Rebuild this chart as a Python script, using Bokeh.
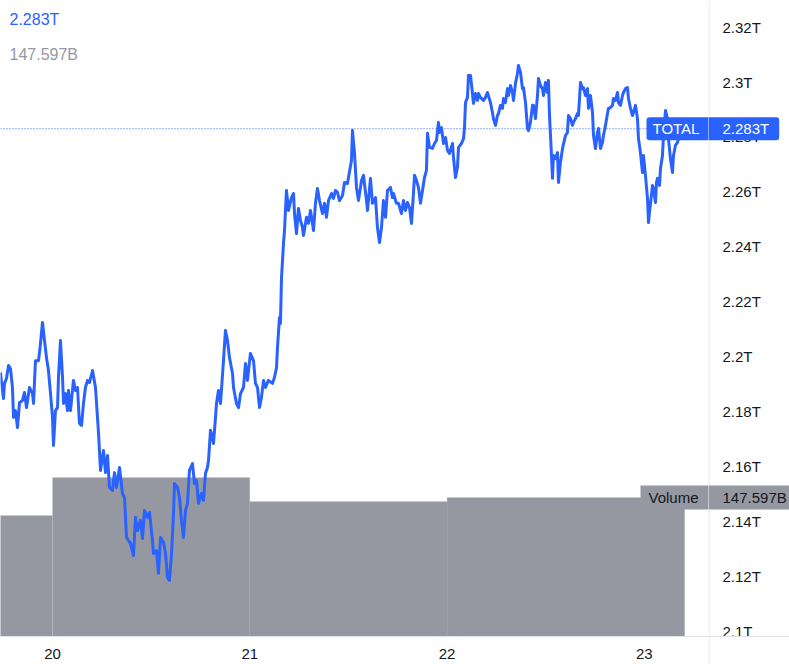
from bokeh.plotting import figure
from bokeh.layouts import row
from bokeh.models import ColumnDataSource, Range1d, FixedTicker, Span, Label
from bokeh.core.properties import value
from bokeh.embed import file_html
from bokeh.resources import INLINE

# hours since day 20, 00:00
hours = [
    -6.33, -6.20, -5.96, -5.84, -5.60, -5.35, -5.11, -4.87, -4.74, -4.50,
    -4.26, -4.01, -3.65, -3.41, -3.16, -2.80, -2.43, -2.31, -2.07, -1.70,
    -1.46, -1.22, -0.97, -0.73, -0.49, -0.24, 0.00, 0.12, 0.36, 0.61,
    0.73, 0.97, 1.22, 1.34, 1.58, 1.82, 1.95, 2.19, 2.55, 2.80,
    3.04, 3.28, 3.53, 3.77, 4.01, 4.26, 4.50, 4.87, 5.23, 5.47,
    5.60, 5.84, 6.20, 6.45, 6.69, 6.93, 7.30, 7.54, 7.78, 8.15,
    8.51, 8.76, 9.00, 9.24, 9.49, 9.85, 10.10, 10.34, 10.70, 10.95,
    11.19, 11.56, 11.80, 12.16, 12.29, 12.65, 12.89, 13.14, 13.50, 13.75,
    13.99, 14.23, 14.48, 14.72, 14.84, 15.21, 15.45, 15.69, 15.93, 16.18,
    16.42, 16.66, 17.03, 17.27, 17.52, 17.76, 18.12, 18.37, 18.61, 18.85,
    18.98, 19.22, 19.46, 19.58, 19.83, 19.95, 20.19, 20.44, 20.80, 21.04,
    21.29, 21.53, 21.90, 22.02, 22.38, 22.63, 22.87, 23.23, 23.48, 23.72,
    24.08, 24.45, 24.69, 24.94, 25.18, 25.42, 25.67, 25.91, 26.27, 26.76,
    27.00, 27.25, 27.37, 27.61, 27.73, 27.86, 28.10, 28.22, 28.46, 28.71,
    29.07, 29.32, 29.44, 29.68, 29.92, 30.17, 30.41, 30.53, 30.90, 31.14,
    31.38, 31.75, 31.99, 32.23, 32.48, 32.84, 33.09, 33.33, 33.57, 33.94,
    34.18, 34.42, 34.67, 34.91, 35.28, 35.52, 35.88, 36.37, 36.49, 36.74,
    36.98, 37.22, 37.59, 37.83, 38.20, 38.32, 38.68, 38.92, 39.29, 39.53,
    39.78, 40.02, 40.26, 40.51, 40.75, 41.11, 41.36, 41.48, 41.84, 42.09,
    42.45, 42.70, 42.94, 43.18, 43.43, 43.67, 43.91, 44.04, 44.28, 44.52,
    44.76, 45.01, 45.25, 45.49, 45.62, 45.86, 46.22, 46.47, 46.71, 46.95,
    47.07, 47.32, 47.56, 47.81, 48.05, 48.29, 48.66, 48.78, 49.02, 49.26,
    49.39, 49.75, 50.00, 50.12, 50.24, 50.48, 50.60, 50.85, 51.09, 51.21,
    51.45, 51.70, 51.82, 52.06, 52.43, 52.67, 52.91, 53.28, 53.52, 53.64,
    53.89, 54.13, 54.25, 54.49, 54.74, 54.86, 55.10, 55.35, 55.47, 55.71,
    55.95, 56.08, 56.32, 56.56, 56.68, 56.93, 57.17, 57.29, 57.54, 57.78,
    57.90, 58.14, 58.39, 58.51, 58.75, 59.00, 59.12, 59.36, 59.60, 59.73,
    59.97, 60.21, 60.33, 60.46, 60.70, 60.82, 60.94, 61.19, 61.43, 61.55,
    61.79, 62.04, 62.40, 62.64, 62.77, 63.01, 63.25, 63.37, 63.62, 63.86,
    63.98, 64.23, 64.47, 64.59, 64.83, 65.08, 65.20, 65.44, 65.69, 65.81,
    66.05, 66.29, 66.42, 66.66, 66.90, 67.02, 67.27, 67.51, 67.63, 67.88,
    68.12, 68.24, 68.48, 68.73, 68.85, 69.09, 69.34, 69.46, 69.70, 69.94,
    70.07, 70.31, 70.55, 70.67, 70.92, 71.16, 71.28, 71.52, 71.77, 71.89,
    72.13, 72.38, 72.50, 72.62, 72.86, 72.98, 73.11, 73.35, 73.47, 73.59,
    73.84, 73.96, 74.20, 74.32, 74.57, 74.81, 74.93, 75.17, 75.42, 75.54,
    75.78, 76.03, 76.15, 76.39, 76.75,
]

# TOTAL crypto market cap, trillions
total_t = [
    2.1942, 2.1905, 2.1847, 2.1902, 2.1920, 2.1967, 2.1956, 2.1887, 2.1778, 2.1803,
    2.1741, 2.1832, 2.1840, 2.1869, 2.1814, 2.1887, 2.1865, 2.1829, 2.1985, 2.1985,
    2.2047, 2.2124, 2.2058, 2.1996, 2.1949, 2.1865, 2.1778, 2.1676, 2.1803, 2.1814,
    2.1924, 2.2058, 2.1924, 2.1829, 2.1865, 2.1803, 2.1876, 2.1803, 2.1913, 2.1876,
    2.1887, 2.1756, 2.1749, 2.1829, 2.1887, 2.1913, 2.1905, 2.1949, 2.1887, 2.1778,
    2.1720, 2.1585, 2.1658, 2.1577, 2.1639, 2.1523, 2.1512, 2.1577, 2.1523, 2.1596,
    2.1501, 2.1486, 2.1341, 2.1330, 2.1319, 2.1275, 2.1414, 2.1366, 2.1403, 2.1337,
    2.1439, 2.1414, 2.1432, 2.1330, 2.1282, 2.1293, 2.1210, 2.1341, 2.1323, 2.1282,
    2.1195, 2.1184, 2.1282, 2.1428, 2.1537, 2.1523, 2.1486, 2.1403, 2.1341, 2.1439,
    2.1465, 2.1585, 2.1610, 2.1537, 2.1548, 2.1465, 2.1501, 2.1476, 2.1574, 2.1596,
    2.1621, 2.1731, 2.1705, 2.1683, 2.1778, 2.1829, 2.1876, 2.1829, 2.1985, 2.2095,
    2.2058, 2.1996, 2.1938, 2.1887, 2.1829, 2.1814, 2.1865, 2.1887, 2.1975, 2.1913,
    2.2011, 2.1985, 2.1902, 2.1887, 2.1814, 2.1851, 2.1913, 2.1887, 2.1913, 2.1902,
    2.1924, 2.1960, 2.2033, 2.2142, 2.2120, 2.2288, 2.2412, 2.2459, 2.2605, 2.2532,
    2.2579, 2.2594, 2.2521, 2.2448, 2.2539, 2.2496, 2.2470, 2.2441, 2.2507, 2.2485,
    2.2532, 2.2459, 2.2558, 2.2612, 2.2568, 2.2521, 2.2558, 2.2507, 2.2568, 2.2594,
    2.2576, 2.2605, 2.2598, 2.2568, 2.2587, 2.2634, 2.2630, 2.2714, 2.2823, 2.2740,
    2.2616, 2.2568, 2.2641, 2.2660, 2.2568, 2.2532, 2.2649, 2.2558, 2.2579, 2.2470,
    2.2415, 2.2470, 2.2568, 2.2507, 2.2605, 2.2616, 2.2579, 2.2594, 2.2558, 2.2558,
    2.2521, 2.2568, 2.2532, 2.2561, 2.2543, 2.2485, 2.2594, 2.2660, 2.2641, 2.2616,
    2.2558, 2.2605, 2.2652, 2.2678, 2.2813, 2.2762, 2.2758, 2.2776, 2.2787, 2.2853,
    2.2816, 2.2834, 2.2776, 2.2798, 2.2751, 2.2740, 2.2776, 2.2725, 2.2652, 2.2689,
    2.2762, 2.2776, 2.2794, 2.2834, 2.2925, 2.2944, 2.3024, 2.3024, 2.2958, 2.2922,
    2.2958, 2.2933, 2.2958, 2.2944, 2.2933, 2.2944, 2.2962, 2.2925, 2.2889, 2.2867,
    2.2842, 2.2878, 2.2885, 2.2915, 2.2904, 2.2940, 2.2925, 2.2976, 2.2951, 2.2987,
    2.2962, 2.2933, 2.2995, 2.3031, 2.3060, 2.3035, 2.2976, 2.2980, 2.2925, 2.2831,
    2.2823, 2.2853, 2.2915, 2.2915, 2.2867, 2.2951, 2.3013, 2.2987, 2.2976, 2.2951,
    2.2998, 2.2962, 2.3006, 2.2878, 2.2732, 2.2649, 2.2732, 2.2721, 2.2743, 2.2634,
    2.2707, 2.2758, 2.2805, 2.2816, 2.2878, 2.2867, 2.2842, 2.2853, 2.2867, 2.2885,
    2.2878, 2.2998, 2.2976, 2.2980, 2.2951, 2.2976, 2.2904, 2.2951, 2.2889, 2.2805,
    2.2758, 2.2816, 2.2831, 2.2758, 2.2780, 2.2805, 2.2842, 2.2885, 2.2904, 2.2907,
    2.2915, 2.2940, 2.2933, 2.2962, 2.2925, 2.2915, 2.2951, 2.2962, 2.2976, 2.2980,
    2.2940, 2.2904, 2.2878, 2.2889, 2.2915, 2.2867, 2.2794, 2.2743, 2.2670, 2.2732,
    2.2660, 2.2576, 2.2488, 2.2525, 2.2587, 2.2623, 2.2612, 2.2561, 2.2634, 2.2649,
    2.2623, 2.2685, 2.2732, 2.2805, 2.2896, 2.2867, 2.2794, 2.2721, 2.2670, 2.2732,
    2.2769, 2.2780, 2.2794, 2.2798, 2.2830,
]

# volume bars (billions), start/end in hours since day 20
vol_start_h = [-24, 0, 24, 48]
vol_end_h = [0, 24, 48, 76.9]
volume_b = [128.5, 168.8, 143.3, 147.597]

price_ticks = [2.10, 2.12, 2.14, 2.16, 2.18, 2.20, 2.22, 2.24, 2.26, 2.28, 2.30, 2.32]
price_tick_labels = ["2.1T", "2.12T", "2.14T", "2.16T", "2.18T", "2.2T",
                     "2.22T", "2.24T", "2.26T", "2.28T", "2.3T", "2.32T"]
day_ticks = [0, 24, 48, 72]
day_labels = ["20", "21", "22", "23"]

symbol = "TOTAL"
last_total = 2.283
last_total_label = "2.283T"
volume_name = "Volume"
last_volume = 147.597
last_volume_label = "147.597B"

assert len(hours) == len(total_t)

BLUE = "#2962ff"
GREY = "#9598a1"
TEXT = "#131722"
AXIS = "#e0e3eb"
FONT = "Liberation Sans"

# ---- layout constants ----
FRAME_W, FRAME_H = 708, 636
AXIS_H = 28
STRIP_W = 81
TOTAL_H = FRAME_H + AXIS_H
y_lo, y_hi = 2.0980, 2.3297
vol_hi = 675.35

# ---------------- main chart ----------------
p = figure(frame_width=FRAME_W, frame_height=FRAME_H,
           output_backend="svg", toolbar_location=None,
           x_range=Range1d(-6.325, 79.80), y_range=Range1d(y_lo, y_hi),
           y_axis_location=None,
           min_border_left=0, min_border_top=0,
           min_border_right=0, min_border_bottom=AXIS_H)
p.extra_y_ranges = {"vol": Range1d(0, vol_hi)}
p.xgrid.visible = False
p.ygrid.visible = False
p.outline_line_color = None
p.background_fill_color = "white"
p.border_fill_color = "white"

vol_src = ColumnDataSource(dict(left=vol_start_h, right=vol_end_h, top=volume_b))
p.quad(left="left", right="right", top="top", bottom=0, source=vol_src,
       y_range_name="vol", fill_color=GREY, line_color=None)

src = ColumnDataSource(dict(h=hours, v=total_t))
p.line("h", "v", source=src, line_color=BLUE, line_width=3, line_join="round")

p.add_layout(Span(location=last_total, dimension="width", line_color=BLUE,
                  line_width=1, line_dash="1 2"))

xax = p.xaxis[0]
xax.ticker = FixedTicker(ticks=day_ticks)
xax.major_label_overrides = dict(zip(day_ticks, day_labels))
xax.axis_line_color = AXIS
xax.major_tick_line_color = None
xax.minor_tick_line_color = None
xax.major_tick_out = 0
xax.major_label_standoff = 12
xax.major_label_text_font = FONT
xax.major_label_text_font_size = "15px"
xax.major_label_text_color = TEXT

# top-left legend values
p.add_layout(Label(x=9, y=617, x_units="screen", y_units="screen",
                   text=last_total_label, text_font=FONT, text_font_size="16px",
                   text_color=BLUE, text_baseline="middle"))
p.add_layout(Label(x=9, y=582, x_units="screen", y_units="screen",
                   text=last_volume_label, text_font=FONT, text_font_size="16px",
                   text_color=GREY, text_baseline="middle"))

# left halves of the tags (clipped square at the frame edge)
p.add_layout(Label(x=646, y=last_total, x_units="screen",
                   text=symbol, text_font=FONT, text_font_size="15px",
                   text_color="white", text_baseline="middle",
                   background_fill_color=BLUE, border_radius=3,
                   padding=dict(left=6, right=16, top=3, bottom=3)))
p.add_layout(Label(x=640, y=last_volume, x_units="screen", y_range_name="vol",
                   text=volume_name, text_font=FONT, text_font_size="15px",
                   text_color=TEXT, text_baseline="middle",
                   background_fill_color=GREY,
                   padding=dict(left=8, right=20, top=3, bottom=4)))

# ---------------- price scale strip ----------------
px_per_t = FRAME_H / (y_hi - y_lo)
px_per_b = FRAME_H / vol_hi
s = figure(frame_width=STRIP_W, frame_height=TOTAL_H,
           output_backend="svg", toolbar_location=None,
           x_range=Range1d(0, STRIP_W),
           y_range=Range1d(y_hi - TOTAL_H / px_per_t, y_hi),
           x_axis_location=None, y_axis_location=None,
           min_border=0)
s.extra_y_ranges = {"vol": Range1d(-AXIS_H / px_per_b, vol_hi)}
s.xgrid.visible = False
s.ygrid.visible = False
s.outline_line_color = None
s.background_fill_color = "white"
s.border_fill_color = "white"

s.add_layout(Span(location=0.5, dimension="height", line_color=AXIS, line_width=1))
s.add_layout(Span(location=y_lo, dimension="width", line_color=AXIS, line_width=1))

tick_src = ColumnDataSource(dict(y=price_ticks, label=price_tick_labels))
s.text(x=14, y="y", text="label", source=tick_src,
       text_font=value(FONT), text_font_size="15px", text_color=TEXT,
       text_baseline="middle", text_align="left")

s.add_layout(Label(x=-6, y=last_total, x_units="screen",
                   text=last_total_label, text_font=FONT, text_font_size="15px",
                   text_color="white", text_baseline="middle",
                   background_fill_color=BLUE, border_radius=3,
                   padding=dict(left=20, right=10, top=3, bottom=3)))
s.add_layout(Label(x=-6, y=last_volume, x_units="screen", y_range_name="vol",
                   text=last_volume_label, text_font=FONT, text_font_size="15px",
                   text_color=TEXT, text_baseline="middle",
                   background_fill_color=GREY,
                   padding=dict(left=20, right=12, top=3, bottom=4)))

layout = row(p, s)
open("out.html", "w").write(file_html(layout, INLINE))
